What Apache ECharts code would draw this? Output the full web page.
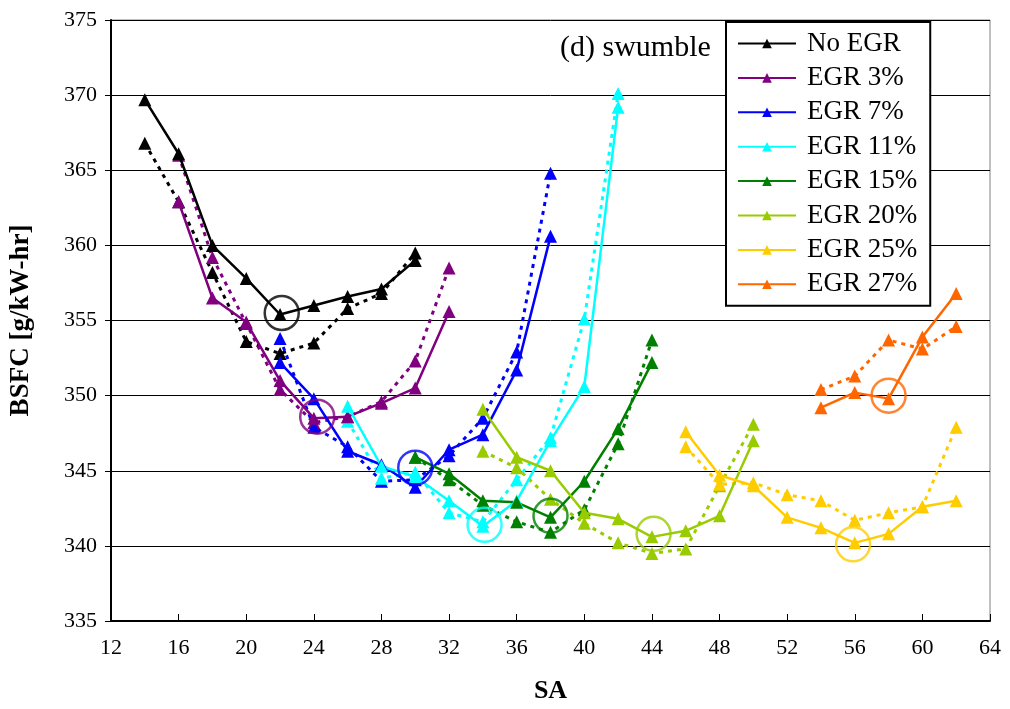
<!DOCTYPE html>
<html>
<head>
<meta charset="utf-8">
<script src="https://cdn.jsdelivr.net/npm/echarts@6/dist/echarts.min.js"></script>
<style>
html,body{margin:0;padding:0;background:#fff;}
#chart{width:1010px;height:709px;}
</style>
</head>
<body>
<div id="chart"></div>
<script>
// ---- data ----
const xTicks = [12,16,20,24,28,32,36,40,44,48,52,56,60,64];
const yTicks = [335,340,345,350,355,360,365,370,375];

const seriesNames = ["No EGR","EGR 3%","EGR 7%","EGR 11%","EGR 15%","EGR 20%","EGR 25%","EGR 27%"];

const saNoEGR = [14,16,18,20,22,24,26,28,30];
const noEGRSolid  = [369.7,366.1,360.0,357.8,355.4,356.0,356.6,357.1,359.0];
const noEGRDotted = [366.8,362.9,358.2,353.6,352.8,353.5,355.8,356.8,359.5];

const saEGR3 = [16,18,20,22,24,26,28,30,32];
const egr3Solid  = [362.9,356.5,354.9,351.0,348.5,348.6,349.5,350.5,355.6];
const egr3Dotted = [366.0,359.2,354.8,350.4,348.2,348.6,349.6,352.3,358.5];

const saEGR7 = [22,24,26,28,30,32,34,36,38];
const egr7Solid  = [352.2,349.8,346.3,345.4,343.9,346.4,347.4,351.7,360.6];
const egr7Dotted = [353.8,347.9,346.6,344.3,344.4,346.0,348.5,352.9,364.8];

const saEGR11 = [26,28,30,32,34,36,38,40,42];
const egr11Solid  = [349.3,345.3,344.6,343.0,341.3,343.0,347.0,350.6,369.2];
const egr11Dotted = [348.3,344.5,344.9,342.2,341.6,344.4,347.2,355.1,370.1];

const saEGR15 = [30,32,34,36,38,40,42,44];
const egr15Solid  = [345.9,344.8,343.0,342.9,341.9,344.3,347.8,352.2];
const egr15Dotted = [345.9,344.4,342.7,341.6,340.9,342.4,346.8,353.7];

const saEGR20 = [34,36,38,40,42,44,46,48,50];
const egr20Solid  = [349.1,345.9,345.0,342.2,341.8,340.6,341.0,342.0,347.0];
const egr20Dotted = [346.3,345.2,343.1,341.5,340.2,339.5,339.8,344.0,348.1];

const saEGR25 = [46,48,50,52,54,56,58,60,62];
const egr25Solid  = [347.6,344.7,344.0,341.9,341.2,340.2,340.8,342.6,343.0];
const egr25Dotted = [346.6,344.1,344.2,343.4,343.0,341.7,342.2,342.6,347.9];

const saEGR27 = [54,56,58,60,62];
const egr27Solid  = [349.2,350.2,349.8,353.9,356.8];
const egr27Dotted = [350.4,351.3,353.7,353.1,354.6];

// circled optimum points
const optimumSA   = [22.1,24.2,30.0,34.1,38.0,44.1,55.9,58.0];
const optimumBSFC = [355.5,348.6,345.2,341.4,342.0,340.8,340.1,350.0];

const colors = ["#000000","#800080","#0000FF","#00FFFF","#008000","#99CC00","#FFCC00","#FF6600"];

// ---- build chart ----
const groups = [
  [saNoEGR, noEGRSolid, noEGRDotted],
  [saEGR3, egr3Solid, egr3Dotted],
  [saEGR7, egr7Solid, egr7Dotted],
  [saEGR11, egr11Solid, egr11Dotted],
  [saEGR15, egr15Solid, egr15Dotted],
  [saEGR20, egr20Solid, egr20Dotted],
  [saEGR25, egr25Solid, egr25Dotted],
  [saEGR27, egr27Solid, egr27Dotted]
];
const pairs = (xs, ys) => xs.map((x, i) => [x, ys[i]]);
const FONT = "'Liberation Serif', 'Times New Roman', serif";

const series = [];
groups.forEach((g, i) => {
  series.push({
    name: seriesNames[i] + " (2)",
    type: "line",
    data: pairs(g[0], g[2]),
    symbol: "triangle",
    symbolSize: 13,
    itemStyle: { color: colors[i] },
    lineStyle: { color: colors[i], width: 3, type: [4, 5] },
    animation: false,
    z: 2
  });
});
groups.forEach((g, i) => {
  series.push({
    name: seriesNames[i],
    type: "line",
    data: pairs(g[0], g[1]),
    symbol: "triangle",
    symbolSize: 13,
    itemStyle: { color: colors[i] },
    lineStyle: { color: colors[i], width: 2.5 },
    animation: false,
    z: 3
  });
});
series.push({
  name: "optimum",
  type: "scatter",
  data: optimumSA.map((x, i) => ({
    value: [x, optimumBSFC[i]],
    itemStyle: { color: "rgba(0,0,0,0)", borderColor: colors[i], borderWidth: 2.5 }
  })),
  symbol: "circle",
  symbolSize: 34,
  silent: true,
  animation: false,
  z: 4
});

const chart = echarts.init(document.getElementById("chart"), null, { renderer: "canvas" });
chart.setOption({
  backgroundColor: "#ffffff",
  animation: false,
  textStyle: { fontFamily: FONT },
  grid: { left: 111, right: 20, top: 20, bottom: 87, show: true, borderColor: "#808080", borderWidth: 1, containLabel: false },
  title: {
    text: "(d) swumble",
    left: 555, top: 28,
    textStyle: { fontFamily: FONT, fontSize: 30, fontWeight: "normal", color: "#000" }
  },
  legend: {
    data: seriesNames.map(n => ({ name: n, lineStyle: { width: 2 } })),
    orient: "vertical",
    left: 726, top: 22,
    backgroundColor: "#ffffff",
    borderColor: "#000000",
    borderWidth: 2,
    borderRadius: 0,
    padding: [8, 13, 8, 11],
    itemWidth: 58,
    itemHeight: 12,
    itemGap: 7.4,
    textStyle: { fontFamily: FONT, fontSize: 27, color: "#000", lineHeight: 26, padding: [0, 0, 0, 6] },
    selectedMode: false
  },
  xAxis: {
    type: "value",
    min: 12, max: 64, interval: 4,
    name: "SA",
    nameLocation: "middle",
    nameGap: 57,
    nameTextStyle: { fontFamily: FONT, fontSize: 26, fontWeight: "bold", color: "#000" },
    axisLine: { show: true, onZero: false, lineStyle: { color: "#000", width: 2 } },
    axisTick: { show: true, inside: true, length: 7, lineStyle: { color: "#000", width: 1 } },
    axisLabel: { fontFamily: FONT, fontSize: 22, color: "#000", margin: 16,
      formatter: v => xTicks.includes(v) ? String(v) : "" },
    splitLine: { show: false }
  },
  yAxis: {
    type: "value",
    min: 335, max: 375, interval: 5,
    name: "BSFC [g/kW-hr]",
    nameLocation: "middle",
    nameGap: 76,
    nameTextStyle: { fontFamily: FONT, fontSize: 27, fontWeight: "bold", color: "#000" },
    axisLine: { show: true, onZero: false, lineStyle: { color: "#000", width: 2 } },
    axisTick: { show: true, inside: false, length: 6, lineStyle: { color: "#000", width: 1 } },
    axisLabel: { fontFamily: FONT, fontSize: 22, color: "#000", margin: 14,
      formatter: v => yTicks.includes(v) ? String(v) : "" },
    splitLine: { show: true, lineStyle: { color: "#000", width: 1 } }
  },
  series: series
});
</script>
</body>
</html>
